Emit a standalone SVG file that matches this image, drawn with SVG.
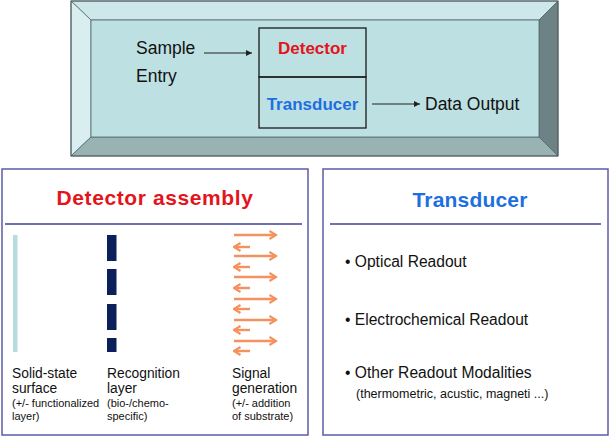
<svg xmlns="http://www.w3.org/2000/svg" width="611" height="437" viewBox="0 0 611 437">
<defs>
<style>
text{font-family:"Liberation Sans",Arial,sans-serif;fill:#111}
.big{font-size:17.5px}
.hd{font-weight:bold;font-size:17px}
.lab{font-size:13.8px}
.sm{font-size:11px}
.bul{font-size:15.6px}
.red{fill:#e3141c}
.blue{fill:#1d6fe0}
.panel{fill:#fff;stroke:#5b5ba8;stroke-width:1.5}
.rule{stroke:#3f3f9c;stroke-width:1.5}
.bev{stroke:#56676a;stroke-width:0.8}
.conn{stroke:#222;stroke-width:1.1;fill:none}
.sig{stroke:#f4925f;stroke-width:2.4;fill:none}
</style>
<marker id="ah" viewBox="0 0 8 8" refX="8" refY="4" markerWidth="6" markerHeight="6" markerUnits="userSpaceOnUse" orient="auto">
<path d="M0,0 L8,4 L0,8 Z" fill="#222"/>
</marker>
<marker id="oh" viewBox="0 0 10 10" refX="8.5" refY="5" markerWidth="10" markerHeight="10" markerUnits="userSpaceOnUse" orient="auto">
<path d="M2,1 L8.5,5 L2,9" fill="none" stroke="#f4925f" stroke-width="2.2" stroke-linejoin="miter"/>
</marker>
</defs>

<g id="system-box">
<polygon class="bev" points="71,1 558,1 539,20 91,20" fill="#cde7ea"/>
<polygon class="bev" points="71,1 91,20 91,137 71,156" fill="#d9eef0"/>
<polygon class="bev" points="558,1 558,156 539,137 539,20" fill="#6d8285"/>
<polygon class="bev" points="71,156 558,156 539,137 91,137" fill="#99b2b4"/>
<rect x="91" y="20" width="448" height="117" fill="#bde0e3" class="bev"/>
<rect x="71" y="1" width="487" height="155" fill="none" stroke="#4d5c5e" stroke-width="1"/>
</g>

<g id="sample-entry">
<text class="big" x="136" y="54">Sample</text>
<text class="big" x="136" y="82">Entry</text>
</g>

<g id="detector-node">
<rect x="259" y="28" width="107" height="49" fill="none" stroke="#1a1a1a" stroke-width="1.3"/>
<text class="hd red" x="312.5" y="54" text-anchor="middle">Detector</text>
</g>

<g id="transducer-node">
<rect x="259" y="77" width="107" height="51" fill="none" stroke="#1a1a1a" stroke-width="1.3"/>
<text class="hd blue" x="312.5" y="110" text-anchor="middle">Transducer</text>
</g>

<g id="data-output">
<text class="big" x="425" y="110">Data Output</text>
</g>

<g id="connectors">
<line class="conn" x1="204" y1="53" x2="252" y2="53" marker-end="url(#ah)"/>
<line class="conn" x1="372" y1="104" x2="420" y2="104" marker-end="url(#ah)"/>
</g>

<g id="detector-assembly">
<rect class="panel" x="2" y="169" width="306" height="266"/>
<line class="rule" x1="5" y1="224" x2="302" y2="224"/>
<text x="155" y="205" text-anchor="middle" class="red" style="font-weight:bold;font-size:21px;letter-spacing:0.6px">Detector assembly</text>

<rect x="13" y="235" width="4.5" height="117" fill="#b7dcdf"/>

<g fill="#0b1f5b">
<rect x="107" y="235" width="9.5" height="26"/>
<rect x="107" y="269" width="9.5" height="26"/>
<rect x="107" y="304" width="9.5" height="26"/>
<rect x="107" y="338" width="9.5" height="14"/>
</g>

<g class="sig">
<line x1="234" y1="235" x2="276" y2="235" marker-end="url(#oh)"/>
<line x1="250" y1="247" x2="234" y2="247" marker-end="url(#oh)"/>
<line x1="234" y1="256" x2="276" y2="256" marker-end="url(#oh)"/>
<line x1="250" y1="267" x2="234" y2="267" marker-end="url(#oh)"/>
<line x1="234" y1="277" x2="276" y2="277" marker-end="url(#oh)"/>
<line x1="250" y1="288" x2="234" y2="288" marker-end="url(#oh)"/>
<line x1="234" y1="299" x2="276" y2="299" marker-end="url(#oh)"/>
<line x1="250" y1="309" x2="234" y2="309" marker-end="url(#oh)"/>
<line x1="234" y1="320" x2="276" y2="320" marker-end="url(#oh)"/>
<line x1="250" y1="330" x2="234" y2="330" marker-end="url(#oh)"/>
<line x1="234" y1="341" x2="276" y2="341" marker-end="url(#oh)"/>
<line x1="250" y1="351" x2="234" y2="351" marker-end="url(#oh)"/>
</g>

<text class="lab" x="12" y="378">Solid-state</text>
<text class="lab" x="12" y="393">surface</text>
<text class="sm" x="12" y="407">(+/- functionalized</text>
<text class="sm" x="12" y="420">layer)</text>

<text class="lab" x="107" y="378">Recognition</text>
<text class="lab" x="107" y="393">layer</text>
<text class="sm" x="107" y="407">(bio-/chemo-</text>
<text class="sm" x="107" y="420">specific)</text>

<text class="lab" x="232" y="378">Signal</text>
<text class="lab" x="232" y="393">generation</text>
<text class="sm" x="232" y="407">(+/- addition</text>
<text class="sm" x="232" y="420">of substrate)</text>
</g>

<g id="transducer-panel">
<rect class="panel" x="323" y="169" width="285" height="266"/>
<line class="rule" x1="330" y1="224" x2="601" y2="224"/>
<text x="470" y="207" text-anchor="middle" class="blue" style="font-weight:bold;font-size:21px;letter-spacing:0.2px">Transducer</text>
<text class="bul" x="345" y="267">• Optical Readout</text>
<text class="bul" x="345" y="325">• Electrochemical Readout</text>
<text class="bul" x="345" y="378">• Other Readout Modalities</text>
<text x="356" y="398" style="font-size:12.5px">(thermometric, acustic, magneti ...)</text>
</g>
</svg>
